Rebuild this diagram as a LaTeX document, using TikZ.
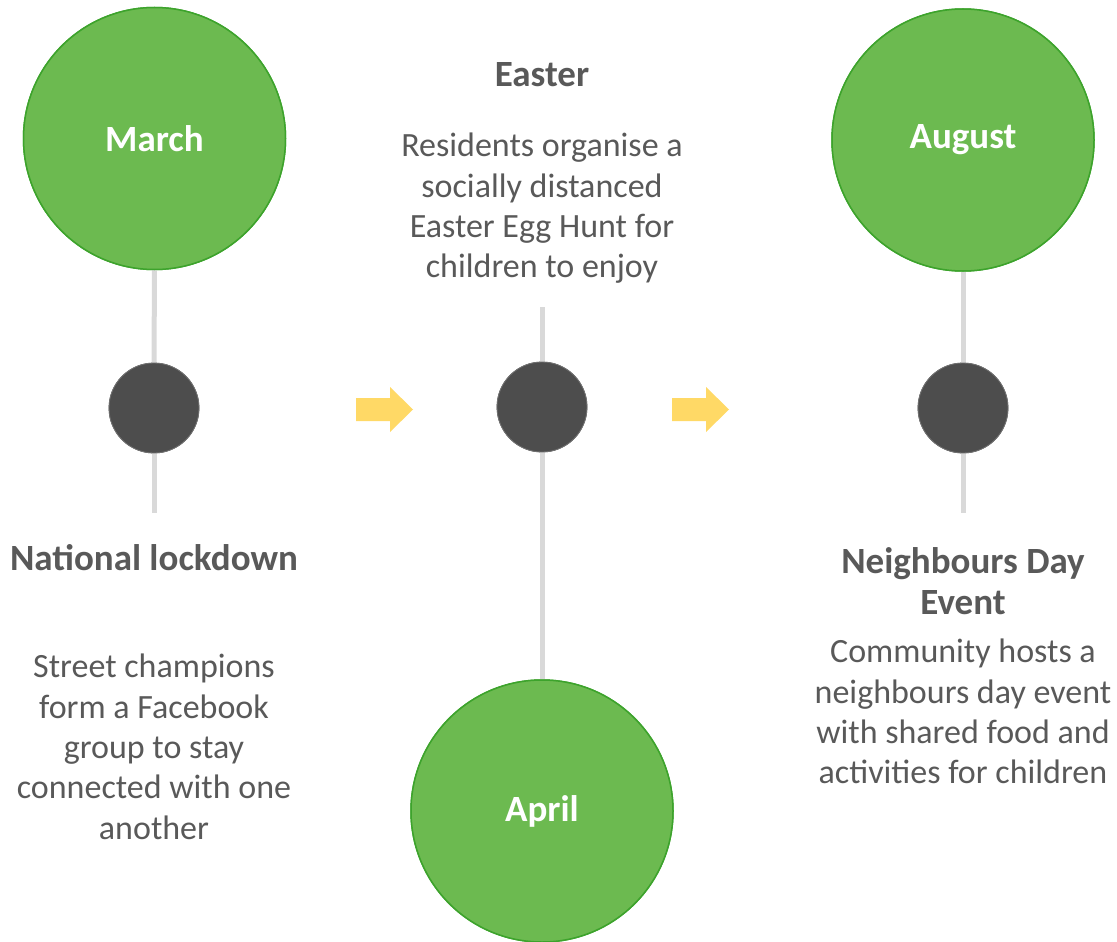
\documentclass[tikz,border=0pt]{standalone}
\usepackage{fontspec}
\setmainfont{Carlito}
\definecolor{gfill}{HTML}{6CBA50}
\definecolor{gline}{HTML}{3DA32C}
\definecolor{dotc}{HTML}{4D4D4D}
\definecolor{connc}{HTML}{D9D9D9}
\definecolor{txtc}{HTML}{595959}
\definecolor{arrc}{HTML}{FFD966}
\tikzset{
  bigcirc/.style={circle, fill=gfill, draw=gline, line width=1.5pt, minimum size=262, inner sep=0pt,
    text=white, font=\fontsize{37}{44}\selectfont\bfseries},
  dotcirc/.style={circle, fill=dotc, draw=dotc!80!white, line width=0.8pt, minimum size=90, inner sep=0pt},
  conn/.style={draw=connc, line width=5pt},
  headtxt/.style={text=txtc, align=center, font=\fontsize{37}{41}\selectfont\bfseries, inner sep=0pt},
  bodytxt/.style={text=txtc, align=center, font=\fontsize{34}{40.3}\selectfont, inner sep=0pt},
  yarrow/.style={fill=arrc, draw=none}
}
\begin{document}
\begin{tikzpicture}[x=1pt,y=-1pt]
\useasboundingbox (0,0) rectangle (1117,942);
\node[bigcirc] (march) at (154.5,138.5) {March};
\node[bigcirc] (aug) at (963,140) {August};
\node[bigcirc] (april) at (542,811) {April};
\node[dotcirc] (d1) at (154,408) {};
\node[dotcirc] (d2) at (542,407) {};
\node[dotcirc] (d3) at (963,408) {};
\coordinate (e1) at (154,513);
\coordinate (e2) at (542,307);
\coordinate (e3) at (963,513);
\draw[conn] (march.south) -- (d1.north);
\draw[conn] (d1.south) -- (e1);
\draw[conn] (e2) -- (d2.north);
\draw[conn] (d2.south) -- (april.north);
\draw[conn] (aug.south) -- (d3.north);
\draw[conn] (d3.south) -- (e3);
% redraw nodes on top of connector ends
\node[bigcirc] at (march) {March};
\node[bigcirc] at (aug) {August};
\node[bigcirc] at (april) {April};
\node[dotcirc] at (d1) {};
\node[dotcirc] at (d2) {};
\node[dotcirc] at (d3) {};
% arrows
\fill[yarrow] (356,398) -- (390,398) -- (390,387) -- (413,409.5) -- (390,432) -- (390,421) -- (356,421) -- cycle;
\fill[yarrow] (672,398) -- (706,398) -- (706,387) -- (729,409.5) -- (706,432) -- (706,421) -- (672,421) -- cycle;
% texts
\node[headtxt, anchor=base] (h2) at (542,87) {Easter};
\node[bodytxt, anchor=north] (b2) at (542,133) {Residents organise a\\socially distanced\\Easter Egg Hunt for\\children to enjoy};
\node[headtxt, anchor=base] (h1) at (154,570) {National lockdown};
\node[bodytxt, anchor=north] (b1) at (154,654) {Street champions\\form a Facebook\\group to stay\\connected with one\\another};
\node[headtxt, anchor=north] (h3) at (963,547) {Neighbours Day\\Event};
\node[bodytxt, anchor=north] (b3) at (963,639) {Community hosts a\\neighbours day event\\with shared food and\\activities for children};
\end{tikzpicture}
\end{document}
